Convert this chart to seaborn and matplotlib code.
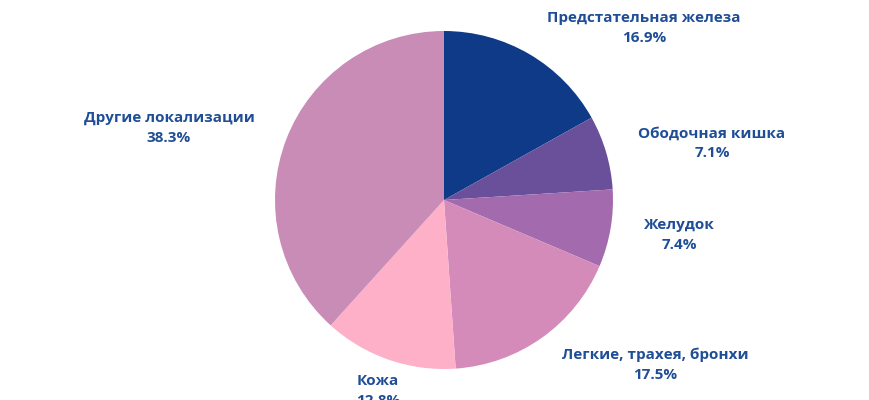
import matplotlib
matplotlib.use("Agg")
import matplotlib.pyplot as plt
import seaborn as sns

categories = ["Предстательная железа", "Ободочная кишка", "Желудок",
              "Легкие, трахея, бронхи", "Кожа", "Другие локализации"]
values = [16.9, 7.1, 7.4, 17.5, 12.8, 38.3]
colors = ["#0e3a87", "#6a4f9b", "#a36bad", "#d48bba", "#feb0c8", "#c98cb6"]
# label centre positions (pixels from left/top), centre of the two-line block
label_pos = [(644, 28), (712, 143), (679, 235), (655, 365), (378, 391), (169, 128)]

sns.set_theme(style="white")
plt.rcParams['font.family'] = ['Open Sans', 'DejaVu Sans']

fig = plt.figure(figsize=(8.7, 4.0), dpi=100)
ax = fig.add_axes([0, 0, 1, 1])

pal = sns.color_palette(colors)
ax.pie(values, colors=pal, startangle=90, counterclock=False,
       center=(444, 200), radius=169, frame=True,
       wedgeprops=dict(linewidth=0))
ax.set_xlim(0, 870)
ax.set_ylim(0, 400)
ax.set_aspect('equal')
ax.axis('off')

for cat, val, (x, y) in zip(categories, values, label_pos):
    ax.text(x, 400 - y, f"{cat}\n{val:.1f}%", ha='center', va='center',
            fontsize=11, fontweight='bold', color='#1f4e96',
            linespacing=1.5)

fig.savefig("out.png", dpi=100)
